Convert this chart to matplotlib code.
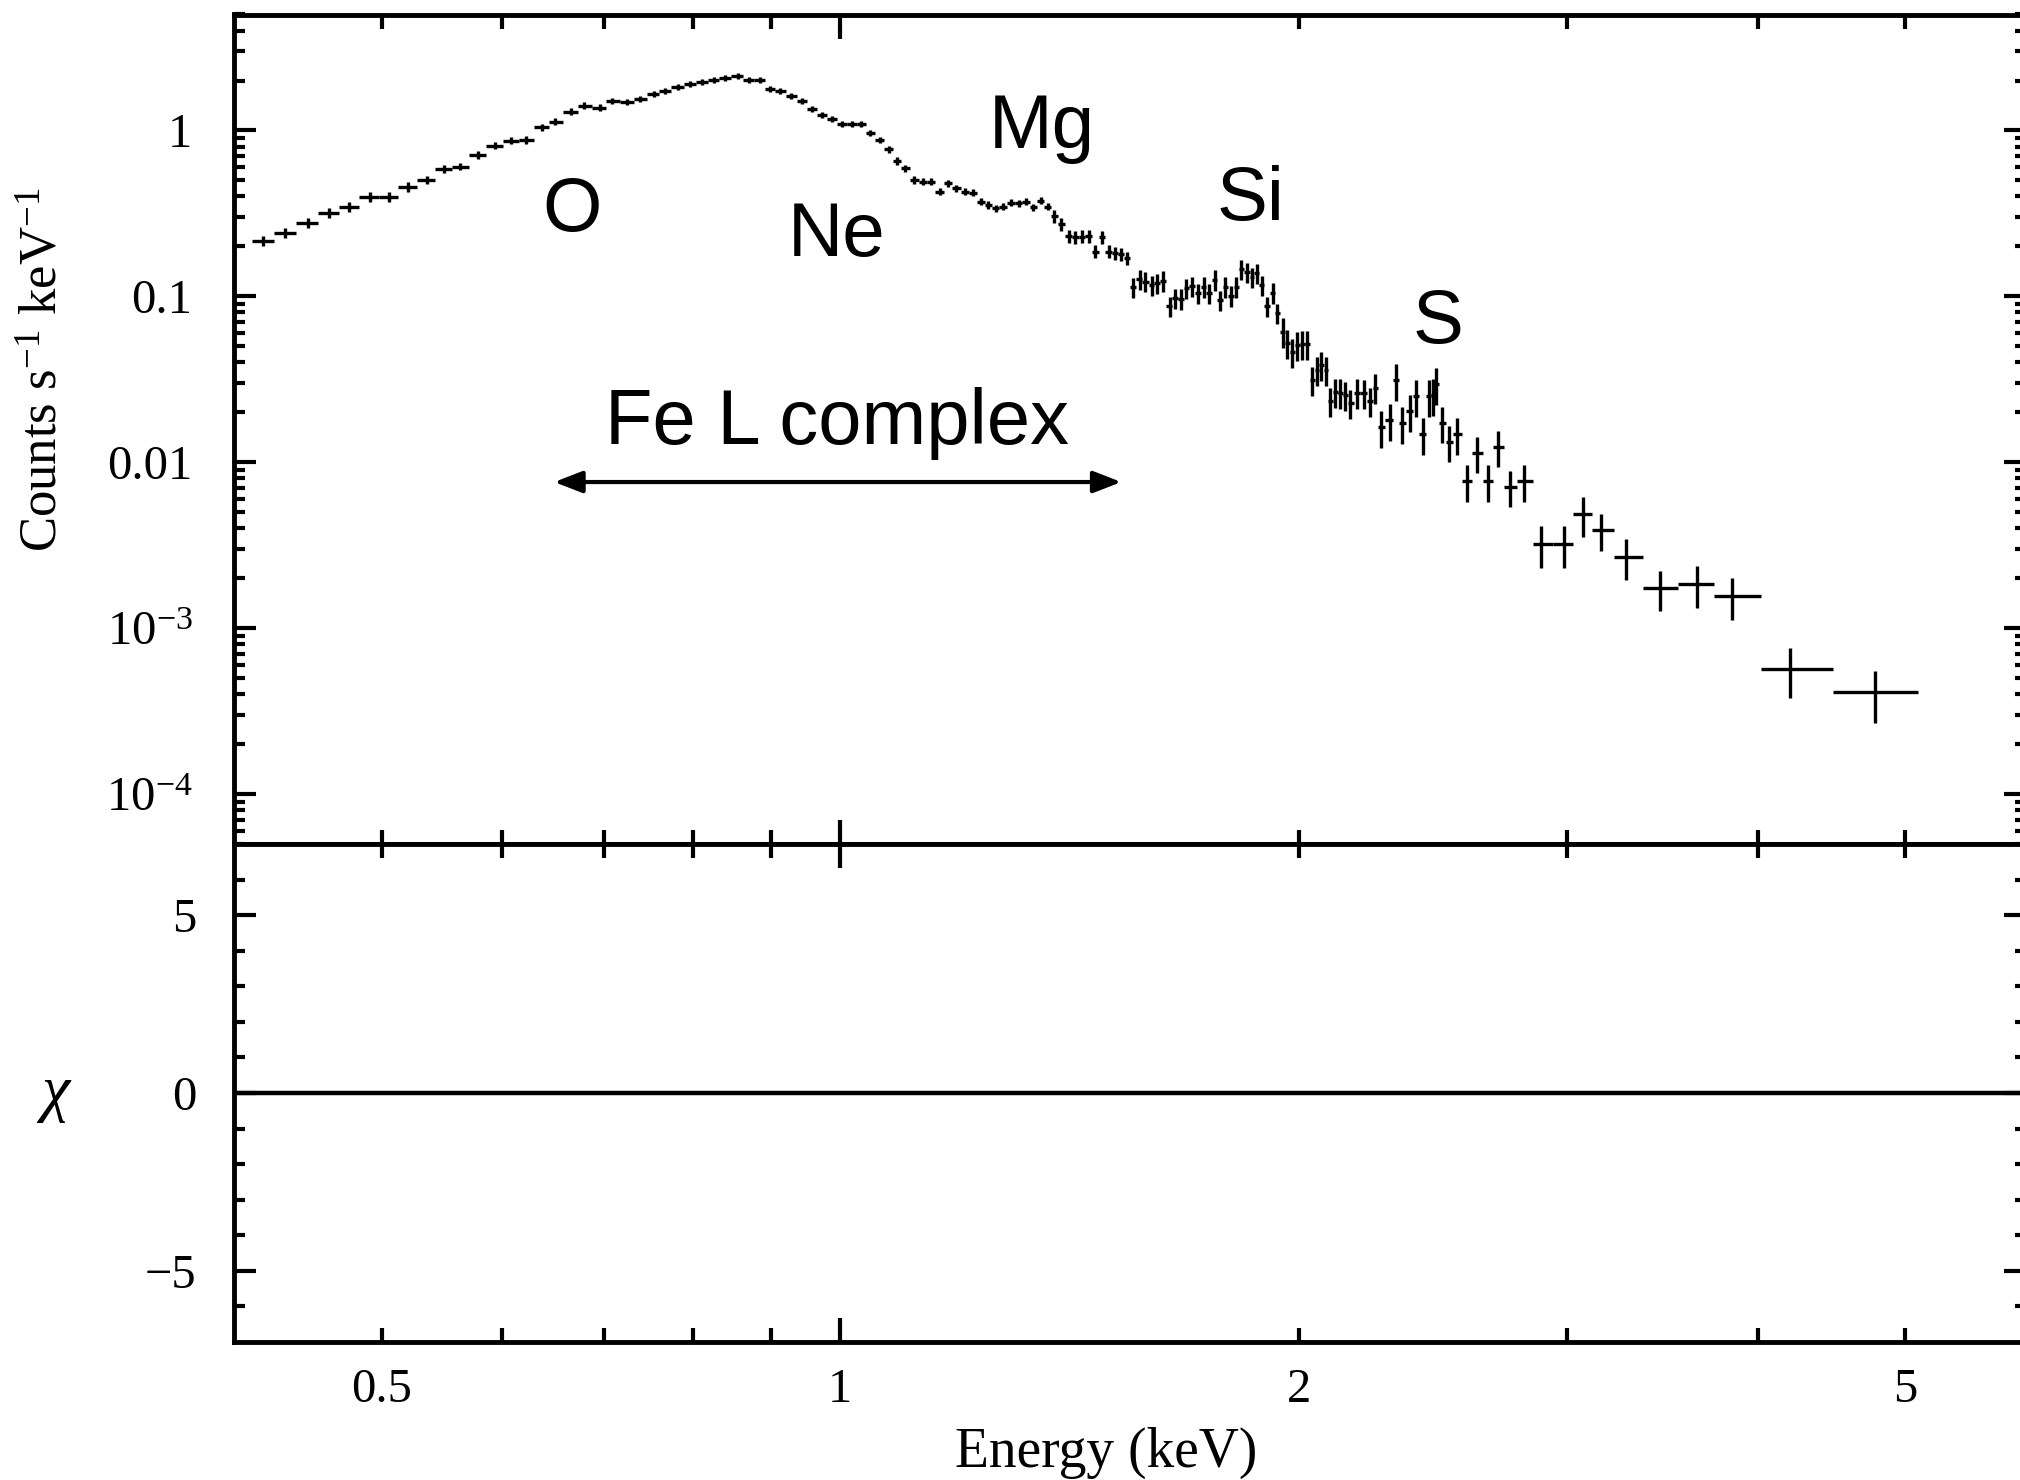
import matplotlib
matplotlib.use("Agg")
import matplotlib.pyplot as plt
from matplotlib.ticker import FixedLocator, FixedFormatter, NullFormatter, LogLocator
import numpy as np

# ---------------- data ----------------
energy = [
    0.4177, 0.4318, 0.4470, 0.4615, 0.4757, 0.4911, 0.5052, 0.5204, 0.5352, 0.5492,
    0.5630, 0.5781, 0.5931, 0.6082, 0.6223, 0.6372, 0.6501, 0.6657, 0.6793, 0.6959,
    0.7084, 0.7245, 0.7392, 0.7542, 0.7676, 0.7819, 0.7973, 0.8114, 0.8257, 0.8404,
    0.8563, 0.8707, 0.8860, 0.8995, 0.9134, 0.9283, 0.9438, 0.9582, 0.9727, 0.9875,
    1.0026, 1.0178, 1.0318, 1.0464, 1.0611, 1.0758, 1.0894, 1.1033, 1.1183, 1.1332,
    1.1473, 1.1619, 1.1768, 1.1917, 1.2069, 1.2222, 1.2371, 1.2498, 1.2650, 1.2784,
    1.2942, 1.3092, 1.3240, 1.3380, 1.3541, 1.3677, 1.3816, 1.3956, 1.4118, 1.4262,
    1.4407, 1.4554, 1.4701, 1.4851, 1.4997, 1.5135, 1.5281, 1.5420, 1.5562, 1.5717,
    1.5852, 1.6013, 1.6135, 1.6281, 1.6447, 1.6588, 1.6733, 1.6866, 1.7014, 1.7159,
    1.7314, 1.7446, 1.7604, 1.7756, 1.7891, 1.8047, 1.8190, 1.8330, 1.8490, 1.8628,
    1.8769, 1.8912, 1.9055, 1.9218, 1.9343, 1.9509, 1.9640, 1.9790, 1.9941, 2.0093,
    2.0246, 2.0400, 2.0555, 2.0689, 2.0846, 2.0972, 2.1131, 2.1292, 2.1453, 2.1617,
    2.1835, 2.2054, 2.2279, 2.2423, 2.2640, 2.2935, 2.3158, 2.3372, 2.3662, 2.3878,
    2.4106, 2.4324, 2.4474, 2.4598, 2.4820, 2.5104, 2.5389, 2.5773, 2.6191, 2.6629,
    2.7011, 2.7514, 2.8109, 2.8840, 2.9849, 3.0714, 3.1586, 3.2762, 3.4514, 3.6475,
    3.8461, 4.2009, 4.7764,
]

rate = [
    0.2167, 0.2421, 0.2758, 0.3194, 0.3473, 0.3990, 0.3990, 0.4583, 0.5029, 0.5859,
    0.6049, 0.7118, 0.8097, 0.8681, 0.8764, 1.045, 1.130, 1.298, 1.411, 1.372,
    1.506, 1.479, 1.549, 1.653, 1.738, 1.837, 1.899, 1.952, 2.016, 2.064,
    2.130, 2.016, 2.016, 1.778, 1.730, 1.614, 1.512, 1.342, 1.240, 1.168,
    1.094, 1.094, 1.094, 0.962, 0.8765, 0.770, 0.655, 0.5918, 0.5029, 0.4913,
    0.4913, 0.4277, 0.4805, 0.4482, 0.4277, 0.4218, 0.3723, 0.3556, 0.3396, 0.3472,
    0.3671, 0.3641, 0.3723, 0.3444, 0.3775, 0.3472, 0.3052, 0.2731, 0.2312, 0.2271,
    0.2291, 0.2312, 0.1859, 0.2271, 0.1859, 0.1819, 0.1801, 0.1697, 0.1134, 0.1268,
    0.1227, 0.1171, 0.1199, 0.1243, 0.0875, 0.0974, 0.0965, 0.1119, 0.1155, 0.1044,
    0.1144, 0.1044, 0.1256, 0.0951, 0.1144, 0.1006, 0.1144, 0.1463, 0.1397, 0.1303,
    0.1378, 0.1171, 0.0875, 0.1053, 0.0791, 0.0613, 0.0522, 0.0464, 0.0510, 0.0516,
    0.0516, 0.0313, 0.0360, 0.0386, 0.0360, 0.0235, 0.0266, 0.0263, 0.0254, 0.0227,
    0.0263, 0.0261, 0.0235, 0.0282, 0.0163, 0.0180, 0.0313, 0.0172, 0.0204, 0.0251,
    0.0148, 0.0251, 0.0254, 0.0296, 0.0173, 0.0133, 0.0148, 0.00772, 0.01143, 0.00772,
    0.01241, 0.00713, 0.00772, 0.00322, 0.00322, 0.00488, 0.00391, 0.00270, 0.00174, 0.00185,
    0.00156, 0.000568, 0.000411,
]

# relative 1-sigma errors
rel_err = [
    0.07, 0.07, 0.07, 0.07, 0.07, 0.07, 0.07, 0.07, 0.05, 0.05,
    0.05, 0.05, 0.05, 0.05, 0.05, 0.05, 0.05, 0.05, 0.05, 0.05,
    0.04, 0.04, 0.04, 0.04, 0.04, 0.04, 0.04, 0.04, 0.04, 0.04,
    0.04, 0.04, 0.04, 0.04, 0.04, 0.04, 0.04, 0.04, 0.04, 0.04,
    0.04, 0.04, 0.04, 0.04, 0.04, 0.05, 0.05, 0.05, 0.05, 0.05,
    0.05, 0.05, 0.05, 0.05, 0.05, 0.05, 0.05, 0.05, 0.05, 0.05,
    0.05, 0.05, 0.05, 0.05, 0.05, 0.05, 0.09, 0.09, 0.09, 0.09,
    0.09, 0.09, 0.09, 0.09, 0.09, 0.09, 0.09, 0.09, 0.14, 0.14,
    0.14, 0.14, 0.14, 0.14, 0.14, 0.14, 0.14, 0.14, 0.14, 0.14,
    0.14, 0.14, 0.14, 0.14, 0.14, 0.14, 0.14, 0.14, 0.14, 0.14,
    0.14, 0.14, 0.14, 0.14, 0.14, 0.20, 0.20, 0.20, 0.20, 0.20,
    0.20, 0.20, 0.20, 0.20, 0.20, 0.20, 0.20, 0.20, 0.20, 0.20,
    0.20, 0.20, 0.20, 0.20, 0.25, 0.25, 0.25, 0.25, 0.25, 0.25,
    0.25, 0.25, 0.25, 0.25, 0.25, 0.25, 0.25, 0.25, 0.25, 0.25,
    0.25, 0.25, 0.25, 0.28, 0.28, 0.27, 0.25, 0.275, 0.27, 0.28,
    0.28, 0.33, 0.35,
]

ytick_vals = [1e-4, 1e-3, 0.01, 0.1, 1]
ytick_labels = [r"$10^{-4}$", r"$10^{-3}$", "0.01", "0.1", "1"]
xtick_major = [1]
xtick_major_labels = ["1"]
xtick_minor = [0.5, 0.6, 0.7, 0.8, 0.9, 2, 3, 4, 5]
xtick_minor_labels = ["0.5", "", "", "", "", "2", "", "", "5"]
chi_ticks = [-5, 0, 5]
chi_tick_labels = ["\u22125", "0", "5"]
chi_minor = [-6, -4, -3, -2, -1, 1, 2, 3, 4, 6]

line_labels = ["O", "Ne", "Mg", "Si", "S"]
line_label_E = [0.667, 0.994, 1.355, 1.859, 2.466]
line_label_C = [0.2478, 0.1752, 0.784, 0.2888, 0.0524]

# ---------------- style ----------------
plt.rcParams["font.family"] = ["Liberation Serif", "DejaVu Serif"]
plt.rcParams["mathtext.fontset"] = "custom"
plt.rcParams["mathtext.rm"] = "Liberation Serif"
plt.rcParams["mathtext.it"] = "Liberation Serif:italic"
plt.rcParams["axes.unicode_minus"] = True

W, H = 2020, 1480
fig = plt.figure(figsize=(W / 100, H / 100), dpi=100)


def rect(l, r, t, b):
    return [l / W, 1 - b / H, (r - l) / W, (b - t) / H]


ax1 = fig.add_axes(rect(234, 2026, 14.5, 844))
ax2 = fig.add_axes(rect(234, 2026, 844, 1342))

E = np.array(energy)
C = np.array(rate)
rel = np.array(rel_err)
mid = np.sqrt(E[:-1] * E[1:])
lo_edge = np.concatenate([[E[0] ** 2 / mid[0]], mid])
hi_edge = np.concatenate([mid, [E[-1] ** 2 / mid[-1]]])
xerr = [E - lo_edge, hi_edge - E]
yerr = C * rel

ax1.errorbar(E, C, xerr=xerr, yerr=yerr, fmt="none", ecolor="black",
             elinewidth=2.4, capsize=0)

ax1.set_xscale("log")
ax1.set_yscale("log")
ax1.set_xlim(0.4, 6)
ax1.set_ylim(5e-5, 5)

ax1.yaxis.set_major_locator(FixedLocator(ytick_vals))
ax1.yaxis.set_major_formatter(FixedFormatter(ytick_labels))
ax1.yaxis.set_minor_locator(LogLocator(base=10, subs=np.arange(2, 10), numticks=30))
ax1.yaxis.set_minor_formatter(NullFormatter())

ax2.set_xscale("log")
ax2.set_xlim(0.4, 6)
for ax in (ax1, ax2):
    ax.xaxis.set_major_locator(FixedLocator(xtick_major))
    ax.xaxis.set_minor_locator(FixedLocator(xtick_minor))
ax2.xaxis.set_major_formatter(FixedFormatter(xtick_major_labels))
ax2.xaxis.set_minor_formatter(FixedFormatter(xtick_minor_labels))
ax1.xaxis.set_major_formatter(NullFormatter())
ax1.xaxis.set_minor_formatter(NullFormatter())

ax2.set_ylim(-7, 7)
ax2.yaxis.set_major_locator(FixedLocator(chi_ticks))
ax2.yaxis.set_major_formatter(FixedFormatter(chi_tick_labels))
ax2.yaxis.set_minor_locator(FixedLocator(chi_minor))
ax2.axhline(0, color="black", lw=3.2)

for ax in (ax1, ax2):
    for sp in ax.spines.values():
        sp.set_linewidth(3.5)
    ax.tick_params(which="both", direction="in", top=True, right=True,
                   width=3.0, color="black")
    ax.tick_params(axis="x", which="major", length=17)
    ax.tick_params(axis="x", which="minor", length=10)
    ax.tick_params(axis="y", which="major", length=16)
    ax.tick_params(axis="y", which="minor", length=8)

ax1.tick_params(axis="y", which="major", labelsize=35, pad=30)
ax1.tick_params(axis="x", which="both", labelbottom=False)
ax2.tick_params(axis="y", which="major", labelsize=35, pad=27)
ax2.tick_params(axis="x", which="both", labelsize=35, pad=19)

# axis labels
fig.text(44 / W, 1 - 370 / H, r"Counts s$^{-1}$ keV$^{-1}$", rotation=90,
         ha="center", va="center", fontsize=38)
fig.text(55 / W, 1 - 1094 / H, "\u03c7", ha="center", va="center", fontsize=46,
         style="italic")
fig.text(1106 / W, 1 - 1467 / H, "Energy (keV)", ha="center", va="baseline",
         fontsize=40)

# line annotations
for lab, xe, yc in zip(line_labels, line_label_E, line_label_C):
    ax1.text(xe, yc, lab, ha="center", va="baseline", fontsize=55,
             family=["Liberation Sans", "DejaVu Sans"])

ax1.text(0.995, 0.01289, "Fe L complex", ha="center", va="baseline", fontsize=56,
         family=["Liberation Sans", "DejaVu Sans"])
ax1.annotate("", xy=(0.649, 0.0076), xytext=(1.529, 0.0076),
             arrowprops=dict(arrowstyle="<|-|>,head_length=0.85,head_width=0.33",
                             mutation_scale=20, lw=3, color="black",
                             shrinkA=0, shrinkB=0))

fig.savefig("out.png", dpi=100)
